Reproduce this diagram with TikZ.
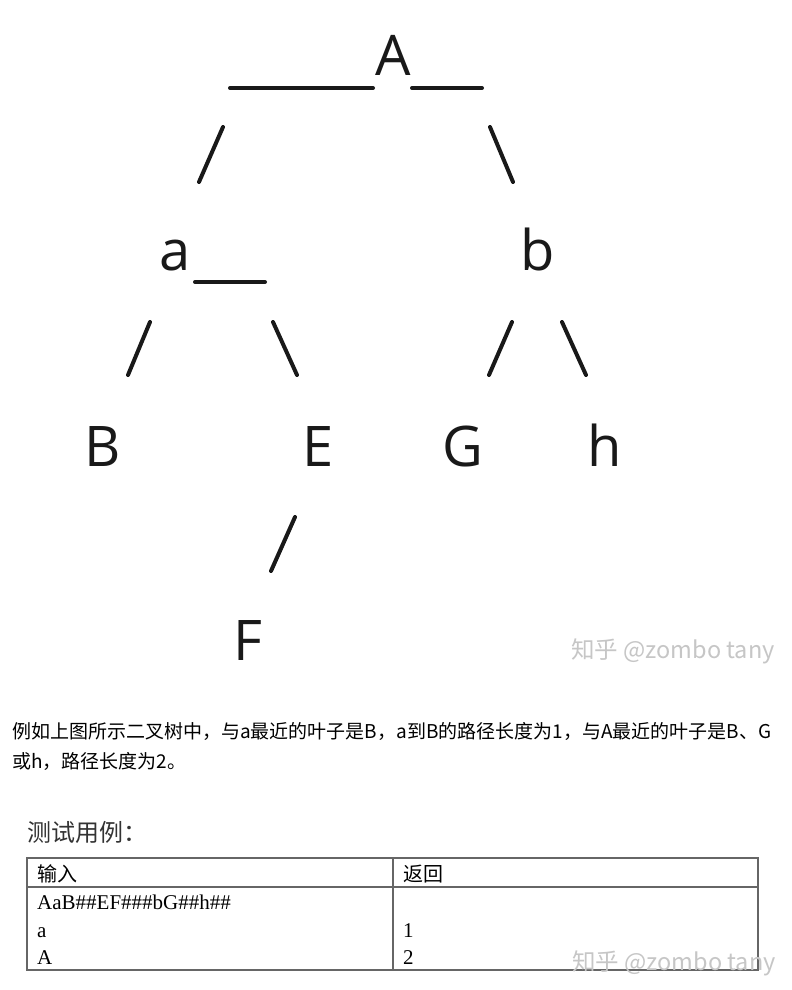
\documentclass[tikz,border=0pt]{standalone}
\usepackage{fontspec}
\setmainfont{Liberation Serif}
\newfontfamily\treefont{Open Sans}
\newfontfamily\cjkfont{Noto Sans CJK SC}

\begin{document}
\begin{tikzpicture}[x=1pt,y=-1pt]
	\tikzset{branch/.style={line width=4pt,line cap=round,black!90}};
	\tikzset{letter/.style={font=\treefont\fontsize{56}{60}\selectfont,anchor=base,inner sep=0pt,black!90}};
	\tikzset{cell/.style={font=\fontsize{21}{24}\selectfont,anchor=base west,inner sep=0pt}};
	\tikzset{zhihu/.style={font=\cjkfont\fontsize{23.5}{26}\selectfont,gray!45,inner sep=0pt}};
	\fill[white] (0,0) rectangle (792,990);
	\useasboundingbox (0,0) rectangle (792,990);
	
	% the tree
	\node[letter] (nA) at (393,75) {A};
	\node[letter] (na) at (175,270) {a};
	\node[letter] (nb) at (538,270) {b};
	\node[letter] (nB) at (103,466) {B};
	\node[letter] (nE) at (318,466) {E};
	\node[letter] (nG) at (463,466) {G};
	\node[letter] (nh) at (605,466) {h};
	\node[letter] (nF) at (248,660) {F};
	
	\draw[branch] (230,88) -- (373,88);
	\draw[branch] (412,88) -- (482,88);
	\draw[branch] (223,127) -- (199,182);
	\draw[branch] (490,127) -- (513,182);
	\draw[branch] (195,282) -- (265,282);
	\draw[branch] (150,322) -- (128,375);
	\draw[branch] (273,322) -- (297,375);
	\draw[branch] (512,322) -- (489,375);
	\draw[branch] (562,322) -- (586,375);
	\draw[branch] (295,517) -- (271,571);
	
	\node[zhihu] (wm1) at (673,651) {知乎 @zombo tany};
	
	% text below
	\node[font=\cjkfont\fontsize{19}{22}\selectfont,anchor=base west,inner sep=0pt] (line1) at (12,738) {例如上图所示二叉树中，与a最近的叶子是B，a到B的路径长度为1，与A最近的叶子是B、G};
	\node[font=\cjkfont\fontsize{19}{22}\selectfont,anchor=base west,inner sep=0pt] (line2) at (12,768) {或h，路径长度为2。};
	\node[font=\cjkfont\fontsize{24}{26}\selectfont,anchor=base west,inner sep=0pt,black!80] (title) at (27,841) {测试用例：};
	
	% table
	\draw[line width=1.5pt,black!60] (27,858) rectangle (758,970);
	\draw[line width=1.2pt,black!60] (27,887) -- (758,887);
	\draw[line width=1.2pt,black!60] (393,858) -- (393,970);
	\node[cell,font=\cjkfont\fontsize{20}{24}\selectfont] (in) at (37,881) {输入};
	\node[cell,font=\cjkfont\fontsize{20}{24}\selectfont] (ret) at (403,881) {返回};
	\node[cell] (s1) at (37,909) {AaB\#\#EF\#\#\#bG\#\#h\#\#};
	\node[cell] (s2) at (37,937) {a};
	\node[cell] (s3) at (37,964) {A};
	\node[cell] (r2) at (403,937) {1};
	\node[cell] (r3) at (403,964) {2};
	
	\node[zhihu] (wm2) at (674,963) {知乎 @zombo tany};
\end{tikzpicture}
\end{document}
